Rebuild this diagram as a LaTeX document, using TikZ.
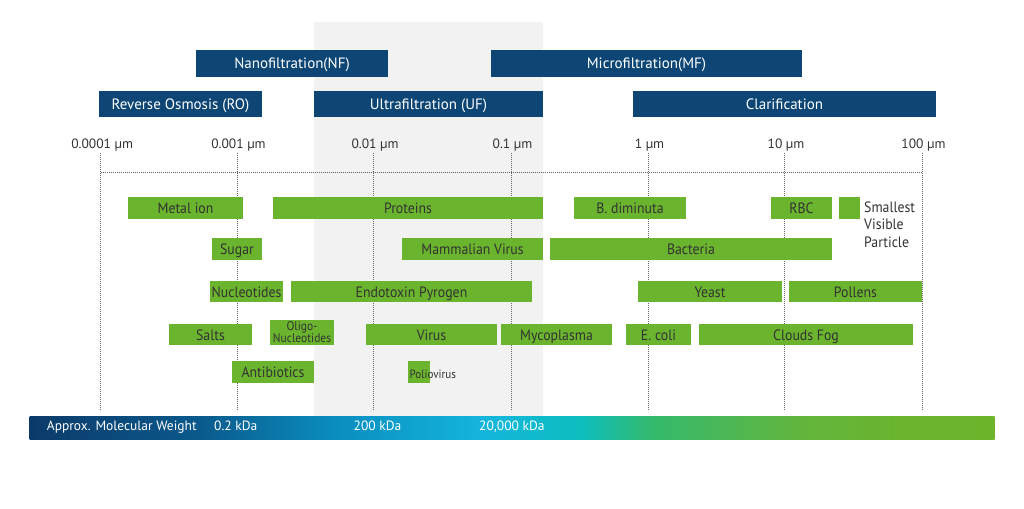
\documentclass[tikz,border=0pt]{standalone}
\usepackage{fontspec}
\setmainfont{PT Sans}
\newfontfamily\barfont[FakeStretch=0.92]{PT Sans}
\definecolor{navy}{HTML}{0D4674}
\definecolor{leaf}{HTML}{6BB42E}
\definecolor{ink}{HTML}{333333}
\definecolor{shadebg}{HTML}{F2F2F2}
\definecolor{dotc}{HTML}{666666}
\definecolor{mwa}{HTML}{0B3A69}
\definecolor{mwb}{HTML}{0A5A8C}
\definecolor{mwc}{HTML}{0A8FC0}
\definecolor{mwd}{HTML}{14B5DC}
\definecolor{mwe}{HTML}{0DBEC0}
\definecolor{mwf}{HTML}{33BA6E}
\definecolor{mwg}{HTML}{62B53C}
\definecolor{mwh}{HTML}{6AB42E}
\definecolor{mwi}{HTML}{6CB52B}
\pgfdeclarehorizontalshading{mwgrad}{100bp}{color(0bp)=(mwa); color(25bp)=(mwa); color(33.83bp)=(mwb); color(41.08bp)=(mwc); color(48.34bp)=(mwd); color(53.52bp)=(mwe); color(57.15bp)=(mwf); color(64.92bp)=(mwg); color(70.1bp)=(mwh); color(75bp)=(mwi); color(100bp)=(mwi)}
\tikzset{
  topbar/.style={fill=navy, text=white, font=\fontsize{15}{17}\selectfont, text height=10.5pt, text depth=0pt, inner sep=0pt, outer sep=0pt, anchor=north west},
  gbar/.style={fill=leaf, text=ink, font=\barfont\fontsize{15}{17}\selectfont, text height=11.5pt, text depth=0pt, inner sep=0pt, outer sep=0pt, anchor=north west},
  ticklab/.style={text=ink, font=\fontsize{13.5}{15}\selectfont, text height=9.5pt, text depth=0pt, inner sep=0pt},
  dotline/.style={draw=dotc, line width=0.9pt, dash pattern=on 0.9pt off 1.1pt},
  mwlab/.style={text=white, font=\fontsize{13.5}{15}\selectfont, text height=9.3pt, text depth=0pt, inner sep=0pt, anchor=west},
}
\newcommand\tbox[6]{\node[topbar,minimum width={#4pt-#2pt},minimum height={#5pt-#3pt}] (#1) at (#2,#3) {#6};}
\newcommand\gbox[6]{\node[gbar,minimum width={#4pt-#2pt},minimum height={#5pt-#3pt}] (#1) at (#2,#3) {#6};}
\begin{document}
\begin{tikzpicture}[x=1pt,y=-1pt]
\useasboundingbox (0,0) rectangle (1024,508);
\fill[white] (0,0) rectangle (1024,508);
\fill[shadebg] (313.5,22) rectangle (543,416);
% top bars
\tbox{nf}{196}{50}{388}{77}{Nanofiltration(NF)}
\tbox{mf}{491}{50}{802}{77}{Microfiltration(MF)}
\tbox{ro}{99}{91}{262}{117}{Reverse Osmosis (RO)}
\tbox{uf}{314}{91}{543}{117}{Ultrafiltration (UF)}
\tbox{cl}{633}{91}{936}{117}{Clarification}
% axis
\foreach \i/\x/\lab in {0/100.7/0.0001, 1/237/0.001, 2/373.5/0.01, 3/511/0.1, 4/648/1, 5/784.5/10, 6/922/100} {
  \coordinate (tt\i) at (\x,153);
  \coordinate (tb\i) at (\x,411);
  \coordinate (ax\i) at (\x,172);
  \draw[dotline] (tt\i) -- (tb\i);
  \node[ticklab] (lab\i) at (\x+1.5,143.3) {\lab\ µm};
}
\draw[dotline] (ax0) -- (ax6);
% row 1
\gbox{metal}{128}{197}{243}{219}{Metal ion}
\gbox{prot}{273}{197}{543}{219}{Proteins}
\gbox{bdim}{574}{197}{686}{219}{B. diminuta}
\gbox{rbc}{771}{197}{832}{219}{RBC}
\gbox{svpbox}{839}{197}{860}{219}{}
\node[anchor=west, align=left, text=ink, font=\barfont\fontsize{15}{17.5}\selectfont, inner sep=0pt] (svp) at (864,224.5) {Smallest\\Visible\\Particle};
% row 2
\gbox{sugar}{212}{238}{262}{260}{Sugar}
\gbox{mamm}{402}{238}{543}{260}{Mammalian Virus}
\gbox{bact}{550}{238}{832}{260}{Bacteria}
% row 3
\gbox{nucl}{210}{281}{283}{302}{Nucleotides}
\gbox{endo}{291}{281}{532}{302}{Endotoxin Pyrogen}
\gbox{yeast}{638}{281}{782}{302}{Yeast}
\gbox{poll}{789}{281}{922}{302}{Pollens}
% row 4
\gbox{salts}{169}{324}{252}{345}{Salts}
\node[gbar, minimum width=64pt, minimum height=25pt, align=center, text height=, text depth=, font=\barfont\fontsize{12.5}{12}\selectfont] (oligo) at (270,320) {Oligo-\\Nucleotides};
\gbox{virus}{366}{324}{497}{345}{Virus}
\gbox{myco}{501}{324}{612}{345}{Mycoplasma}
\gbox{ecoli}{626}{324}{691}{345}{E. coli}
\gbox{cloud}{699}{324}{913}{345}{Clouds Fog}
% row 5
\gbox{anti}{232}{361}{314}{383}{Antibiotics}
\gbox{poliobox}{408}{361}{430}{383}{}
\node[anchor=west, text=ink, font=\barfont\fontsize{12}{12}\selectfont, inner sep=0pt] (polio) at (409.5,374) {Poliovirus};
% molecular weight bar
\node[shade, shading=mwgrad, minimum width=964.9pt, minimum height=23pt, inner sep=0pt, outer sep=0pt, anchor=north west] (mw) at (29.6,416) {};
\node[mwlab] (mwt) at (46.7,426) {Approx. Molecular Weight};
\node[mwlab] (kda1) at (214,426) {0.2 kDa};
\node[mwlab] (kda2) at (353.5,426) {200 kDa};
\node[mwlab] (kda3) at (479,426) {20,000 kDa};
\end{tikzpicture}
\end{document}
